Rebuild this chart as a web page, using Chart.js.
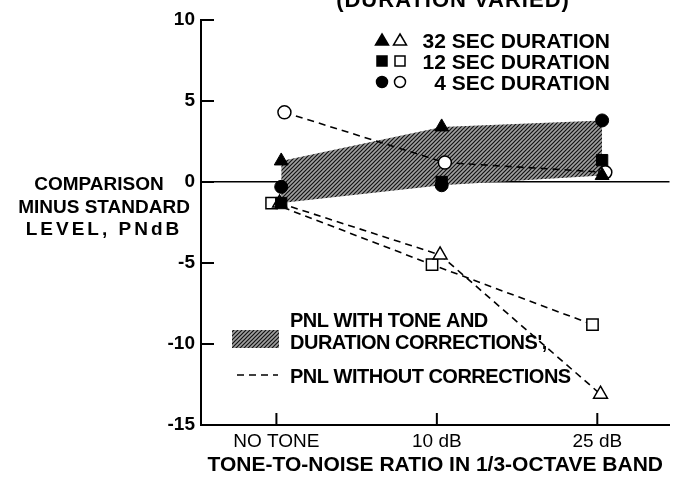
<!DOCTYPE html>
<html>
<head>
<meta charset="utf-8">
<script src="https://cdn.jsdelivr.net/npm/chart.js@4"></script>
<style>
  html, body { margin: 0; padding: 0; background: #fff; }
  #wrap { width: 679px; height: 482px; }
</style>
</head>
<body>
<div id="wrap"><canvas id="myChart"></canvas></div>
<script>
const categories = ['NO TONE', '10 dB', '25 dB'];
const yTicks = [10, 5, 0, -5, -10, -15];

// with tone and duration corrections (filled symbols)
const corr32 = [1.3, 3.4, 0.4];
const corr12 = [-1.3, 0.0, 1.35];
const corr4 = [-0.3, -0.2, 3.8];

// without corrections (open symbols, dashed lines)
const plain32 = [-1.3, -4.5, -13.1];
const plain12 = [-1.3, -5.1, -8.8];
const plain4 = [4.3, 1.2, 0.6];

const FONT = "'Liberation Sans', Arial, sans-serif";

// shaded band spans the corrected points
const bandTop = categories.map((c, i) => Math.max(corr32[i], corr12[i], corr4[i]));
const bandBottom = categories.map((c, i) => Math.min(corr32[i], corr12[i], corr4[i]));

function pts(vals, nudge) {
  return vals.map((v, i) => ({ x: i + (nudge || 0), y: v }));
}

function hatch() {
  const c = document.createElement('canvas');
  c.width = 4; c.height = 4;
  const g = c.getContext('2d');
  g.fillStyle = '#a0a0a0';
  g.fillRect(0, 0, 4, 4);
  g.strokeStyle = '#111';
  g.lineWidth = 1.2;
  g.beginPath();
  g.moveTo(0, 4); g.lineTo(4, 0);
  g.moveTo(-1, 1); g.lineTo(1, -1);
  g.moveTo(3, 5); g.lineTo(5, 3);
  g.stroke();
  return document.createElement('canvas').getContext('2d').createPattern(c, 'repeat');
}
const hatchFill = hatch();

function filled(vals, style, r) {
  return {
    data: pts(vals, 0.03), showLine: false, order: 0,
    pointStyle: style, pointRadius: r, backgroundColor: '#000', borderColor: '#000', borderWidth: 1
  };
}
function open(vals, style, r, nudge) {
  return {
    data: pts(vals, nudge), showLine: true, order: 2,
    borderColor: '#000', borderWidth: 1.6, borderDash: [7, 5],
    pointStyle: style, pointRadius: r, pointBackgroundColor: '#fff',
    pointBorderColor: '#000', pointBorderWidth: 1.5
  };
}

function marker(ctx, style, x, y, solid) {
  ctx.save();
  ctx.fillStyle = solid ? '#000' : '#fff';
  ctx.strokeStyle = '#000';
  ctx.lineWidth = 1.5;
  ctx.beginPath();
  if (style === 'triangle') {
    ctx.moveTo(x, y - 6); ctx.lineTo(x + 6.5, y + 5); ctx.lineTo(x - 6.5, y + 5); ctx.closePath();
  } else if (style === 'rect') {
    ctx.rect(x - 5, y - 5, 10, 10);
  } else {
    ctx.arc(x, y, 5.5, 0, Math.PI * 2);
  }
  ctx.fill(); ctx.stroke();
  ctx.restore();
}

const decor = {
  id: 'decor',
  afterDraw(chart) {
    const ctx = chart.ctx;
    const xs = chart.scales.x, ys = chart.scales.y;
    const a = chart.chartArea;
    ctx.save();
    ctx.strokeStyle = '#000';
    ctx.lineWidth = 2;
    // inward ticks
    yTicks.forEach(v => {
      const y = ys.getPixelForValue(v);
      ctx.beginPath(); ctx.moveTo(a.left, y); ctx.lineTo(a.left + 13, y); ctx.stroke();
    });
    categories.forEach((c, i) => {
      const x = xs.getPixelForValue(i);
      ctx.beginPath(); ctx.moveTo(x, a.bottom); ctx.lineTo(x, a.bottom - 12); ctx.stroke();
    });

    ctx.fillStyle = '#000';
    ctx.textAlign = 'center';
    ctx.textBaseline = 'alphabetic';
    // title (cut at top edge)
    ctx.font = 'bold 22px ' + FONT;
    ctx.letterSpacing = '1px';
    ctx.fillText('(DURATION VARIED)', 453, 7);
    ctx.letterSpacing = '0px';

    // y axis label
    ctx.font = 'bold 19px ' + FONT;
    ctx.fillText('COMPARISON', 99, 190);
    ctx.fillText('MINUS STANDARD', 104, 213);
    ctx.letterSpacing = '3px';
    ctx.fillText('LEVEL, PNdB', 104, 235);
    ctx.letterSpacing = '0px';

    // symbol legend
    const rows = [['triangle', '32 SEC DURATION'], ['rect', '12 SEC DURATION'], ['circle', '4 SEC DURATION']];
    ctx.font = 'bold 21px ' + FONT;
    ctx.textAlign = 'right';
    rows.forEach((r, k) => {
      const y = 40 + k * 21;
      marker(ctx, r[0], 382, y, true);
      marker(ctx, r[0], 400, y, false);
      ctx.fillText(r[1], 610, y + 8);
    });

    // line legend
    ctx.fillStyle = hatchFill;
    ctx.fillRect(232, 330, 47, 18);
    ctx.fillStyle = '#000';
    ctx.lineWidth = 1.6;
    ctx.setLineDash([7, 5]);
    ctx.beginPath(); ctx.moveTo(237, 375); ctx.lineTo(278, 375); ctx.stroke();
    ctx.setLineDash([]);
    ctx.textAlign = 'left';
    ctx.font = 'bold 20px ' + FONT;
    ctx.letterSpacing = '-0.5px';
    ctx.fillText('PNL WITH TONE AND', 290, 327);
    ctx.fillText("DURATION CORRECTIONS',", 290, 349);
    ctx.fillText('PNL WITHOUT CORRECTIONS', 290, 383);
    ctx.restore();
  }
};

const config = {
  type: 'scatter',
  data: {
    datasets: [
      { data: pts(bandTop, 0.03), showLine: true, borderWidth: 0, pointRadius: 0, fill: false, order: 5 },
      { data: pts(bandBottom, 0.03), showLine: true, borderWidth: 0, pointRadius: 0, fill: '-1', backgroundColor: hatchFill, order: 5 },
      open(plain32, 'triangle', 8, 0.02),
      open(plain12, 'rect', 8, -0.03),
      open(plain4, 'circle', 6.5, 0.05),
      filled(corr32, 'triangle', 8),
      filled(corr12, 'rect', 8),
      filled(corr4, 'circle', 6.5)
    ]
  },
  options: {
    responsive: true,
    maintainAspectRatio: false,
    animation: false,
    layout: { padding: { top: 20, right: 0, bottom: 0, left: 0 } },
    plugins: { legend: { display: false }, tooltip: { enabled: false } },
    scales: {
      x: {
        type: 'linear', min: -0.47, max: 2.45,
        afterFit: s => { s.height = 57; },
        afterBuildTicks: s => { s.ticks = categories.map((c, i) => ({ value: i })); },
        grid: { display: false, drawTicks: false },
        border: { color: '#000', width: 2 },
        ticks: { padding: 5, color: '#000', font: { family: FONT, size: 19 }, callback: v => categories[v] },
        title: {
          display: true, text: 'TONE-TO-NOISE RATIO IN 1/3-OCTAVE BAND', color: '#000',
          font: { family: FONT, size: 21, weight: 'bold' }, padding: { top: 0, bottom: 4 }
        }
      },
      y: {
        min: -15, max: 10,
        afterFit: s => { s.width = 201; },
        afterBuildTicks: s => { s.ticks = yTicks.map(v => ({ value: v })); },
        grid: { drawTicks: false, color: c => c.tick && c.tick.value === 0 ? '#000' : 'rgba(0,0,0,0)', lineWidth: 1.5 },
        border: { color: '#000', width: 2 },
        ticks: { padding: 6, color: '#000', font: { family: FONT, size: 19, weight: 'bold' } }
      }
    }
  },
  plugins: [decor]
};

const myChart = new Chart(document.getElementById('myChart'), config);
</script>
</body>
</html>
